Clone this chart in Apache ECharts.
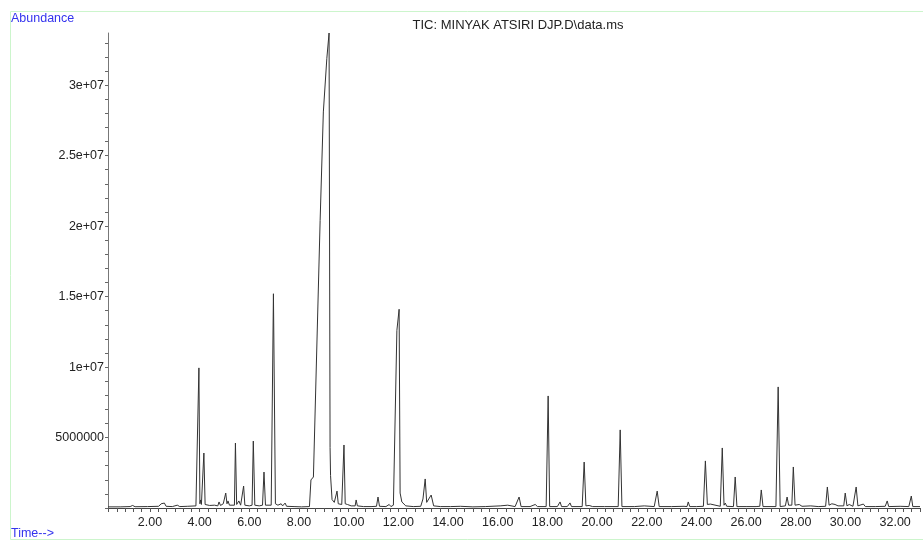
<!DOCTYPE html>
<html>
<head>
<meta charset="utf-8">
<script src="https://cdn.jsdelivr.net/npm/echarts@6/dist/echarts.min.js"></script>
<style>
  html, body { margin: 0; padding: 0; background: #fff; }
  #main { width: 923px; height: 541px; }
</style>
</head>
<body>
<div id="main"></div>
<script>
// retention time (min) and abundance (x 1e6)
var rt = [
  0.31, 0.8, 1.2, 1.3, 1.4, 1.9, 2.35, 2.45, 2.5, 2.58, 2.65, 2.9, 3.1, 3.2, 3.5,
  3.85, 3.93, 3.97, 4.01, 4.04, 4.07, 4.17, 4.22, 4.4, 4.6, 4.73, 4.78, 4.84, 4.95,
  5.05, 5.1, 5.14, 5.2, 5.4, 5.44, 5.49, 5.58, 5.65, 5.72, 5.77, 5.82, 6.0, 6.11,
  6.16, 6.22, 6.4, 6.53, 6.59, 6.65, 6.88, 6.97, 7.05, 7.15, 7.28, 7.34, 7.44, 7.5,
  7.8, 8.1, 8.42, 8.48, 8.58, 8.65, 8.85, 8.98, 9.12, 9.21, 9.25, 9.27, 9.33, 9.42,
  9.48, 9.53, 9.58, 9.72, 9.77, 9.81, 9.86, 9.95, 10.1, 10.26, 10.3, 10.35, 10.6,
  10.9, 11.12, 11.18, 11.24, 11.5, 11.63, 11.7, 11.8, 11.94, 12.03, 12.07, 12.14,
  12.3, 12.6, 12.9, 12.99, 13.04, 13.08, 13.14, 13.22, 13.32, 13.42, 13.7, 14.1,
  14.5, 15.0, 15.5, 16.1, 16.4, 16.7, 16.86, 16.94, 17.3, 17.51, 17.6, 17.95, 18.03,
  18.09, 18.4, 18.51, 18.57, 18.8, 18.91, 18.97, 19.4, 19.48, 19.55, 19.6, 19.68,
  19.76, 19.82, 20.3, 20.85, 20.93, 21.0, 21.5, 21.9, 22.3, 22.42, 22.5, 23.0, 23.5,
  23.62, 23.67, 23.73, 24.0, 24.28, 24.36, 24.44, 24.56, 24.64, 24.96, 25.04, 25.11,
  25.16, 25.22, 25.49, 25.56, 25.63, 26.0, 26.4, 26.55, 26.61, 26.68, 27.2, 27.29,
  27.37, 27.58, 27.65, 27.71, 27.84, 27.9, 27.97, 28.14, 28.25, 28.6, 28.9, 29.2,
  29.27, 29.34, 29.45, 29.51, 29.58, 29.7, 29.93, 29.99, 30.06, 30.15, 30.3, 30.43,
  30.5, 30.72, 30.8, 31.2, 31.6, 31.68, 31.74, 32.2, 32.55, 32.65, 32.71, 33.0
];
var abund = [
  0.08, 0.08, 0.1, 0.18, 0.09, 0.1, 0.12, 0.3, 0.18, 0.35, 0.12, 0.1, 0.2, 0.1, 0.12,
  0.15, 0.2, 9.94, 0.3, 0.57, 0.25, 3.9, 0.25, 0.18, 0.2, 0.15, 0.43, 0.18, 0.3,
  1.06, 0.3, 0.5, 0.2, 0.2, 4.61, 0.25, 0.5, 0.2, 0.25, 1.56, 0.2, 0.15, 0.2,
  4.75, 0.2, 0.15, 0.2, 2.55, 0.2, 0.2, 15.2, 0.3, 0.2, 0.3, 0.15, 0.35, 0.12,
  0.1, 0.08, 0.1, 1.99, 2.2, 2.34, 20.4, 28.1, 31.9, 33.7, 4.3, 2.3, 0.6, 0.4,
  0.5, 1.2, 0.3, 0.25, 0.3, 4.47, 0.3, 0.25, 0.15, 0.15, 0.57, 0.15, 0.1,
  0.1, 0.12, 0.78, 0.12, 0.1, 0.25, 0.1, 0.2, 12.6, 14.1, 1.06, 0.43,
  0.15, 0.1, 0.12, 0.64, 0.5, 2.06, 0.4, 0.5, 0.92, 0.15, 0.1, 0.1,
  0.12, 0.08, 0.1, 0.15, 0.2, 0.1, 0.78, 0.1, 0.1, 0.25, 0.1, 0.1, 7.95,
  0.1, 0.1, 0.43, 0.1, 0.1, 0.36, 0.1, 0.1, 3.26, 0.15, 0.28, 0.18,
  0.3, 0.1, 0.1, 0.1, 5.54, 0.1, 0.1, 0.15, 0.1, 1.2, 0.1, 0.1, 0.12,
  0.1, 0.43, 0.1, 0.1, 0.12, 3.34, 0.25, 0.28, 0.15, 0.12, 4.26, 0.2,
  0.35, 0.12, 0.1, 2.2, 0.1, 0.1, 0.1, 0.12, 1.28, 0.1, 0.1, 8.59,
  0.1, 0.15, 0.78, 0.2, 0.2, 2.91, 0.2, 0.25, 0.12, 0.15, 0.1, 0.12,
  1.49, 0.2, 0.3, 0.35, 0.25, 0.15, 0.15, 1.06, 0.15, 0.25, 0.12, 1.49,
  0.15, 0.28, 0.1, 0.1, 0.12, 0.5, 0.1, 0.12, 0.1, 0.85, 0.1, 0.1
];

var xTickLabels = [2, 4, 6, 8, 10, 12, 14, 16, 18, 20, 22, 24, 26, 28, 30, 32];
var yTickValues = [5e6, 1e7, 1.5e7, 2e7, 2.5e7, 3e7];
var yTickLabels = ['5000000', '1e+07', '1.5e+07', '2e+07', '2.5e+07', '3e+07'];

var chart = echarts.init(document.getElementById('main'));

var points = rt.map(function (t, i) { return [t, abund[i] * 1e6]; });

// small ticks: every 1/3 min on time axis, every 1e6 on abundance axis
var xTicks = [];
for (var k = 1; k <= 99; k++) xTicks.push(k / 3);
var yTicks = [];
for (var j = 0; j <= 33; j++) yTicks.push(j * 1e6);

var font = '"Liberation Sans", Arial, sans-serif';

var option = {
  animation: false,
  backgroundColor: '#fff',
  grid: { left: 108, right: 3, top: 33, bottom: 33 },
  xAxis: {
    type: 'value',
    min: 0.31,
    max: 33.0,
    axisLine: { lineStyle: { color: '#444', width: 1 } },
    axisTick: { show: true, customValues: xTicks, length: 4, lineStyle: { color: '#555' } },
    axisLabel: {
      customValues: xTickLabels,
      formatter: function (v) { return v.toFixed(2); },
      color: '#222', fontSize: 12.5, fontFamily: font, margin: 8
    },
    splitLine: { show: false }
  },
  yAxis: {
    type: 'value',
    min: 0,
    max: 33.7e6,
    axisLine: { show: true, lineStyle: { color: '#777', width: 1 } },
    axisTick: { show: true, customValues: yTicks, length: 3, lineStyle: { color: '#666' } },
    axisLabel: {
      customValues: yTickValues,
      formatter: function (v) {
        var i = yTickValues.indexOf(v);
        return i >= 0 ? yTickLabels[i] : '';
      },
      color: '#222', fontSize: 12.5, fontFamily: font, margin: 4
    },
    splitLine: { show: false }
  },
  graphic: [
    {
      type: 'rect',
      shape: { x: 10.5, y: 11.5, width: 930, height: 528 },
      style: { fill: 'none', stroke: '#ccf5cc', lineWidth: 1 },
      silent: true, z: -1
    },
    {
      type: 'text', left: 11, top: 12,
      style: { text: 'Abundance', fill: '#3333ee', font: '12.5px ' + font }
    },
    {
      type: 'text', left: 11, top: 527,
      style: { text: 'Time-->', fill: '#3333ee', font: '12.5px ' + font }
    },
    {
      type: 'text', x: 518, y: 25,
      style: {
        text: 'TIC: MINYAK ATSIRI DJP.D\\data.ms', fill: '#222',
        font: '13px ' + font, align: 'center', verticalAlign: 'middle'
      }
    }
  ],
  series: [{
    type: 'line',
    data: points,
    showSymbol: false,
    symbol: 'none',
    lineStyle: { color: '#333', width: 1 },
    silent: true
  }]
};

chart.setOption(option);
</script>
</body>
</html>
